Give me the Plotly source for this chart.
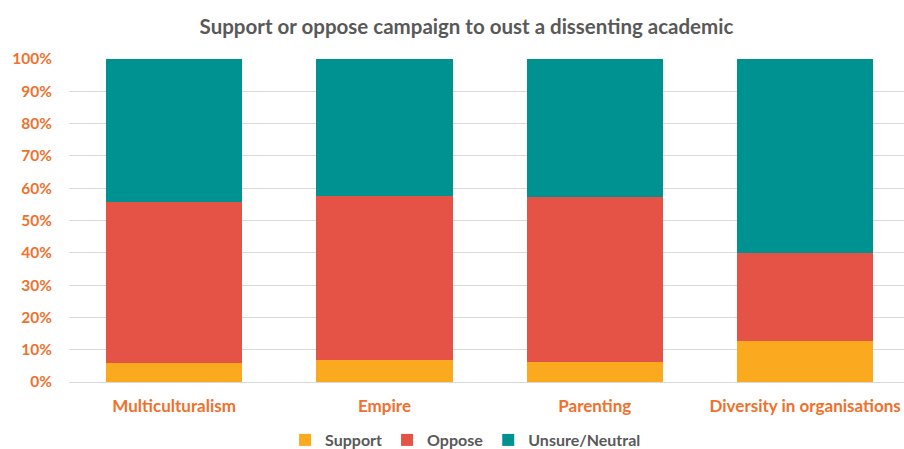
import plotly.graph_objects as go

# Topics asked about
categories = ["Multiculturalism", "Empire", "Parenting", "Diversity in organisations"]

# Share of respondents (%) per answer
support = [5.8, 6.7, 6.2, 12.7]
oppose = [49.8, 50.9, 51.1, 27.1]
unsure = [44.4, 42.4, 42.7, 60.2]

y_ticks = [0, 10, 20, 30, 40, 50, 60, 70, 80, 90, 100]
y_tick_labels = [f"{v}%" for v in y_ticks]

series = [
    ("Support", support, "#FBA91E"),
    ("Oppose", oppose, "#E55347"),
    ("Unsure/Neutral", unsure, "#009291"),
]

font_family = "Lato, 'Open Sans', sans-serif"
orange = "#F0702C"
grey = "#595959"

fig = go.Figure()
for name, vals, color in series:
    fig.add_trace(go.Bar(
        x=categories, y=vals, name=f"<b>{name}</b>",
        marker=dict(color=color, line=dict(width=0)),
        width=0.647,
    ))

fig.update_layout(
    barmode="stack",
    width=904, height=449,
    margin=dict(l=69, r=0, t=59, b=67),
    paper_bgcolor="white", plot_bgcolor="white",
    font=dict(family=font_family),
    title=dict(
        text="<b>Support or oppose campaign to oust a dissenting academic</b>",
        font=dict(size=20.5, color=grey, family=font_family),
        x=0.516, xanchor="center", xref="container",
        y=0.94, yanchor="middle", yref="container",
    ),
    xaxis=dict(
        range=[-0.5, 3.47],
        tickvals=categories, ticktext=[f"<b>{c}</b>" for c in categories],
        showgrid=False, showline=False, zeroline=False,
        tickfont=dict(size=17, color=orange, family=font_family),
        ticks="", ticklabelstandoff=12,
    ),
    yaxis=dict(
        range=[0, 100],
        tickvals=y_ticks, ticktext=[f"<b>{t}</b>" for t in y_tick_labels],
        tickfont=dict(size=15.5, color=orange, family=font_family),
        showgrid=True, gridcolor="#D9D9D9", gridwidth=1,
        zeroline=True, zerolinecolor="#D9D9D9", zerolinewidth=1,
        ticks="", ticklabelstandoff=16,
    ),
    legend=dict(
        orientation="h",
        x=0.515, xanchor="center", xref="container",
        y=0.02, yanchor="middle", yref="container",
        font=dict(size=16, color=grey, family=font_family),
        itemwidth=30, traceorder="normal",
    ),
)

fig.write_html("out.html")
